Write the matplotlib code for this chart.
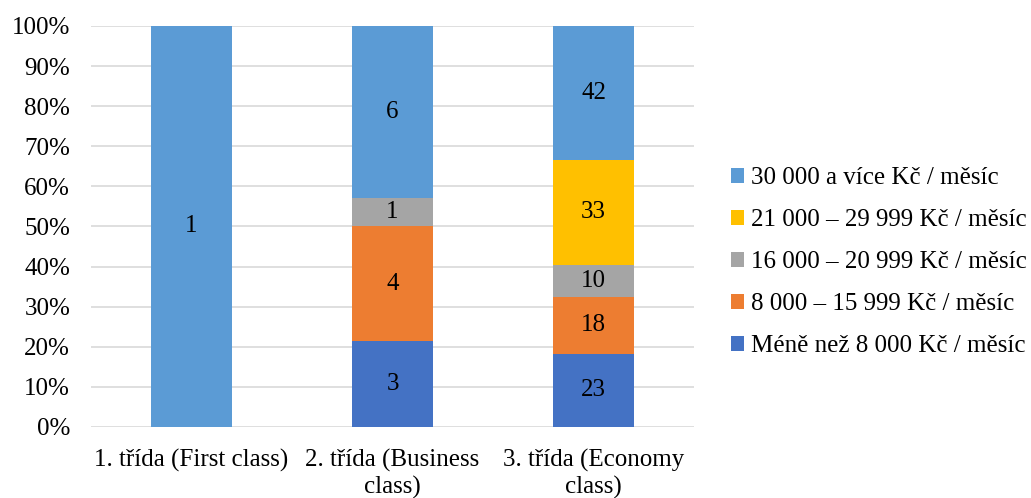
import matplotlib
matplotlib.use("Agg")
import matplotlib.pyplot as plt
import numpy as np

# data
categories = ["1. třída (First class)", "2. třída (Business\nclass)", "3. třída (Economy\nclass)"]
series_names = [
    "Méně než 8 000 Kč / měsíc",
    "8 000 – 15 999 Kč / měsíc",
    "16 000 – 20 999 Kč / měsíc",
    "21 000 – 29 999 Kč / měsíc",
    "30 000 a více Kč / měsíc",
]
below_8000 = [0, 3, 23]
from_8000 = [0, 4, 18]
from_16000 = [0, 1, 10]
from_21000 = [0, 0, 33]
above_30000 = [1, 6, 42]
colors = ["#4472C4", "#ED7D31", "#A5A5A5", "#FFC000", "#5B9BD5"]

plt.rcParams["font.family"] = ["Liberation Serif", "DejaVu Serif"]

counts = np.array([below_8000, from_8000, from_16000, from_21000, above_30000], dtype=float)
totals = counts.sum(axis=0)
shares = counts / totals

fig = plt.figure(figsize=(10.31, 4.98), dpi=100)
ax = fig.add_axes([0.0883, 0.1426, 0.585, 0.8052])

x = np.arange(len(categories))
bottom = np.zeros(len(categories))
handles = []
for i, name in enumerate(series_names):
    bars = ax.bar(x, shares[i], 0.4, bottom=bottom, color=colors[i], label=name, zorder=2)
    handles.append(bars)
    # value labels in the middle of each segment
    for j in range(len(categories)):
        if counts[i, j] > 0:
            ax.text(x[j], bottom[j] + shares[i, j] / 2, f"{int(counts[i, j])}",
                    ha="center", va="center", fontsize=18, color="black", zorder=3)
    bottom += shares[i]

ax.set_xlim(-0.5, 2.5)
ax.set_ylim(0, 1)
ax.set_yticks(np.arange(0, 1.01, 0.1))
ax.set_yticklabels([f"{int(round(v * 100))}%" for v in np.arange(0, 1.01, 0.1)])
ax.set_xticks(x)
ax.set_xticklabels(categories, linespacing=1.2)
ax.tick_params(axis="both", length=0, labelsize=18)
ax.tick_params(axis="y", pad=15)
ax.tick_params(axis="x", pad=16)
ax.yaxis.grid(True, color="#D9D9D9", linewidth=1.2, zorder=0)
ax.set_axisbelow(True)
for s in ax.spines.values():
    s.set_visible(False)

fig.legend(handles[::-1], series_names[::-1], loc="center left",
           bbox_to_anchor=(0.699, 0.474), frameon=False, fontsize=18,
           handlelength=0.55, handleheight=0.55, handletextpad=0.25,
           labelspacing=0.8, borderaxespad=0)

fig.savefig("out.png", dpi=100)
